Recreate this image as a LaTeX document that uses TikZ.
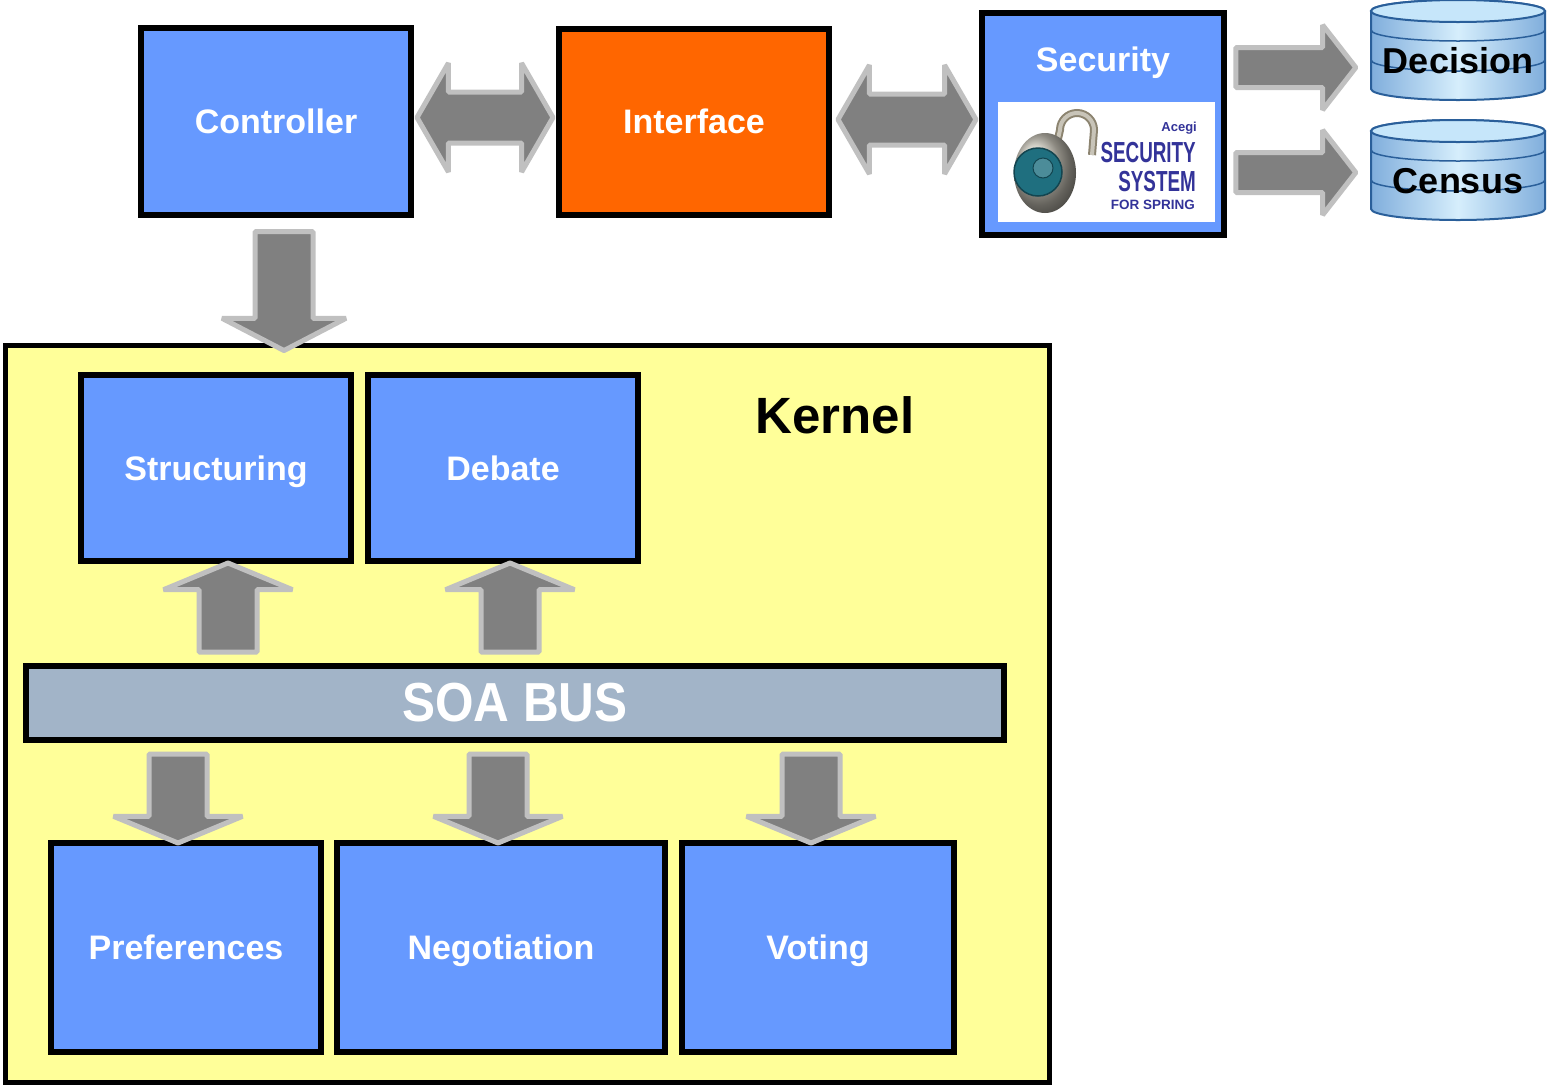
\documentclass[tikz,border=0pt]{standalone}
\usepackage{fontspec}
\setmainfont{Liberation Sans}
\usetikzlibrary{positioning,calc,shapes.arrows}

\definecolor{boxblue}{HTML}{6699FF}
\definecolor{ifaceorange}{HTML}{FF6600}
\definecolor{kernelyellow}{HTML}{FFFF99}
\definecolor{busgray}{HTML}{A2B4C8}
\definecolor{arrowgray}{HTML}{808080}
\definecolor{arrowedge}{HTML}{C0C0C0}
\definecolor{cyledge}{HTML}{2A5F9A}
\definecolor{cylside}{HTML}{80AEDC}
\definecolor{cyllight}{HTML}{D6EEFC}
\definecolor{cyltop}{HTML}{C6E6FA}
\definecolor{logoblue}{HTML}{333399}
\definecolor{lockmetal}{HTML}{C8C4B8}
\definecolor{lockedge}{HTML}{8C8470}
\definecolor{dialteal}{HTML}{1F6F7F}
\definecolor{dialdark}{HTML}{134550}

\newcommand{\boxfont}{\bfseries\fontsize{34}{40}\selectfont}

% fat block arrow between two points
\newcommand{\fatarrow}[3][]{%
  \path let \p1=(#2), \p2=(#3), \n1={atan2(\y2-\y1,\x2-\x1)}, \n2={veclen(\x2-\x1,\y2-\y1)} in
    node[#1, rotate=\n1, minimum height=\n2] at ($(\p1)!0.5!(\p2)$) {};}

% database cylinder
\newcommand{\dbcyl}[3]{%
  \begin{scope}[shift={#2}]
    \draw[draw=cyledge, line width=2pt, shading=axis, left color=cylside, right color=cylside, middle color=cyllight]
      (-87,-39) -- (-87,39) arc[start angle=180, end angle=0, x radius=87, y radius=11]
      -- (87,-39) arc[start angle=0, end angle=-180, x radius=87, y radius=11] -- cycle;
    \draw[draw=cyledge, line width=2pt, fill=cyltop] (0,-39) ellipse[x radius=87, y radius=11];
    \foreach \band in {-20,10}
      \draw[draw=cyledge, line width=1.5pt] (-87,\band) arc[start angle=180, end angle=0, x radius=87, y radius=11];
  \end{scope}
  \node[dbtext] (#1) at ($#2+(0,11)$) {#3};
  \coordinate (#1-in) at ($#2+(-110,0)$);}

\begin{document}
\begin{tikzpicture}[x=1pt, y=-1pt,
		block/.style={draw, line width=6pt, fill=boxblue, text=white, font=\boxfont, inner sep=0pt, text height=24pt, text depth=0pt, minimum width=270pt, minimum height=186pt},
		dbtext/.style={font=\bfseries\fontsize{36}{40}\selectfont, text=black},
		logotext/.style={anchor=base east, text=logoblue, inner sep=0pt},
		fat/.style={draw=arrowedge, fill=arrowgray, line width=5pt, line join=bevel, inner xsep=0pt, text height=0pt, text depth=0pt},
		downfat/.style={fat, single arrow, inner ysep=26.5pt, single arrow head extend=33pt, single arrow tip angle=125},
		busfat/.style={fat, single arrow, inner ysep=26.5pt, single arrow head extend=35.5pt, single arrow tip angle=135},
		dbfat/.style={fat, single arrow, inner ysep=17.5pt, single arrow head extend=22.5pt, single arrow tip angle=104},
		twofat/.style={fat, double arrow, inner ysep=23pt, double arrow head extend=29pt, double arrow tip angle=120}
	]
		\useasboundingbox (0,0) rectangle (1550,1088);

		% top row
		\node[block, minimum height=187pt] (ctrl) at (276,121.5) {Controller};
		\node[block, fill=ifaceorange, right=142pt of ctrl] (iface) {Interface};
		\node[block, minimum width=242pt, minimum height=222pt] (sec) at (1103,124) {};
		\node[font=\boxfont, text=white, text height=24pt, text depth=0pt] (seclabel) at (1103,59) {Security};
		\node[fill=white, minimum width=217pt, minimum height=120pt, inner sep=0pt] (logo) at (1106.5,162) {};

		% padlock
		\draw[line width=8pt, color=lockedge] (1055,152) -- (1060,130) arc[start angle=180, end angle=360, radius=17] -- (1092,155);
		\draw[line width=4pt, color=lockmetal] (1055,152) -- (1060,130) arc[start angle=180, end angle=360, radius=17] -- (1092,155);
		\shade[ball color=lockmetal] (1045,173) ellipse[x radius=31, y radius=40];
		\draw[fill=dialteal, draw=dialdark, line width=1.5pt] (1038,172) circle[radius=24];
		\draw[fill=dialteal!80!white, draw=dialdark, line width=1pt] (1043,168) circle[radius=10];

		\node[logotext, font=\bfseries\fontsize{13}{13}\selectfont] (acegi) at (1197,131) {Acegi};
		\node[logotext, font=\bfseries\fontsize{29}{29}\selectfont] (secword) at (1196,162) {\scalebox{0.65}[1]{SECURITY}};
		\node[logotext, font=\bfseries\fontsize{29}{29}\selectfont] (sysword) at (1196,191) {\scalebox{0.65}[1]{SYSTEM}};
		\node[logotext, font=\bfseries\fontsize{13.5}{14}\selectfont] (spring) at (1195,209) {FOR SPRING};

		\dbcyl{dec}{(1458,50)}{Decision}
		\dbcyl{cen}{(1458,170)}{Census}

		% kernel
		\node[draw, line width=5pt, fill=kernelyellow, minimum width=1044pt, minimum height=737pt] (kernel) at (527.5,714) {};
		\node[font=\bfseries\fontsize{51}{60}\selectfont] (kernlabel) at (835,415) {Kernel};
		\node[block] (struct) at (216,468) {Structuring};
		\node[block, right=11pt of struct] (debate) {Debate};
		\node[draw, line width=6pt, fill=busgray, text=white, font=\bfseries\fontsize{55}{60}\selectfont, minimum width=978pt, minimum height=74pt] (soa) at (515,703) {\scalebox{0.9}[1]{SOA BUS}};
		\node[block, minimum height=209pt] (pref) at (186,947.5) {Preferences};
		\node[block, minimum height=209pt, minimum width=328pt, right=10pt of pref] (negot) {Negotiation};
		\node[block, minimum height=209pt, minimum width=272pt, right=11pt of negot] (vote) {Voting};

		% arrows
		\coordinate (ck) at ([xshift=8pt,yshift=-6pt]ctrl.south);
		\coordinate (ci) at ([xshift=3pt,yshift=4pt]ctrl.east);
		\coordinate (ie) at ([xshift=6pt,yshift=2pt]iface.east);
		\coordinate (is) at ([xshift=-3pt]sec.west);
		\coordinate (s1) at ([xshift=1pt,yshift=-57.5pt]sec.north east);
		\coordinate (s2) at ([xshift=1pt,yshift=-162.5pt]sec.north east);
		\coordinate (bustop) at ([yshift=5pt]soa.north);
		\coordinate (busbot) at ([yshift=-5pt]soa.south);
		\coordinate (up1) at ([xshift=12pt,yshift=-5pt]struct.south);
		\coordinate (up2) at ([xshift=7pt,yshift=-5pt]debate.south);
		\coordinate (dn1) at ([xshift=-8pt,yshift=3pt]pref.north);
		\coordinate (dn2) at ([xshift=-3pt,yshift=3pt]negot.north);
		\coordinate (dn3) at ([xshift=-7pt,yshift=3pt]vote.north);

		\fatarrow[twofat]{ci}{[xshift=-3pt,yshift=4pt]iface.west}
		\fatarrow[twofat]{ie}{ie -| is}
		\fatarrow[dbfat]{s1}{s1 -| dec-in}
		\fatarrow[dbfat]{s2}{s2 -| cen-in}
		\fatarrow[downfat]{ck}{ck |- kernel.north}
		\fatarrow[busfat]{up1 |- bustop}{up1}
		\fatarrow[busfat]{up2 |- bustop}{up2}
		\fatarrow[busfat]{dn1 |- busbot}{dn1}
		\fatarrow[busfat]{dn2 |- busbot}{dn2}
		\fatarrow[busfat]{dn3 |- busbot}{dn3}
	\end{tikzpicture}
\end{document}
